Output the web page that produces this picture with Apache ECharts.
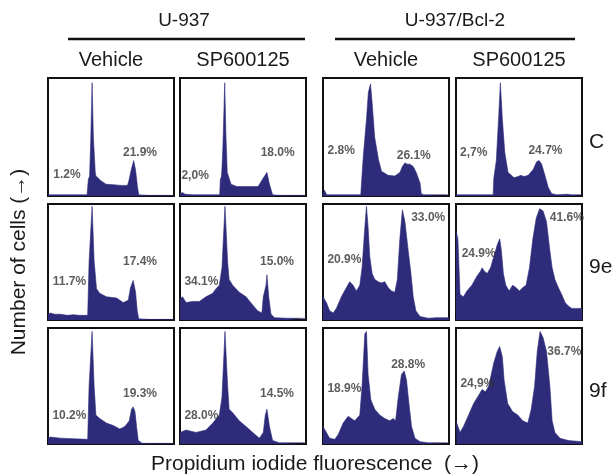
<!DOCTYPE html>
<html><head><meta charset="utf-8">
<script src="https://cdn.jsdelivr.net/npm/echarts@6/dist/echarts.min.js"></script>
<style>html,body{margin:0;padding:0;background:#fff}#c{width:616px;height:476px}</style>
</head><body><div id="c"></div>
<script>
// Column / row headings
const groupLabels = ['U-937', 'U-937/Bcl-2'];
const treatmentLabels = ['Vehicle', 'SP600125', 'Vehicle', 'SP600125'];
const rowLabels = ['C', '9e', '9f'];
const xTitle = 'Propidium iodide fluorescence  (\u2192)';
const yTitle = 'Number of cells (\u2192)';

// Histograms: [fluorescence %, relative cell count %]
const u937VehC = [[0,1],[10,1],[20,1],[31,1],[32,14],[33,17],[34,50],[35,96],[36,50],[37.5,20],[38,17],[42,13],[46,10],[52,9.5],[58,9],[63,9],[64,12],[66,22],[68,30],[69.5,22],[71,8],[72,1],[80,0.5],[100,0.5]];
const u937SpC = [[0,2],[2,3],[4,1.5],[10,1],[20,1],[31.5,1],[32,14],[33,17],[34,40],[35.5,96],[36.5,50],[37.5,20],[40.5,10],[45,8],[55,8],[62,8],[63,9],[66,15],[69,20],[71,10],[73.5,1],[80,0.5],[100,0.5]];
const bclVehC = [[0,1],[1,5],[2,5],[3,1],[10,1],[20,1],[30,1],[30.5,10],[32,34],[34.5,65],[36,88],[37.7,95],[39,79],[41,50],[44,31],[46.4,21],[51.7,17.5],[57,17],[61,20],[63,25],[65,28],[67,27],[69,27],[71.6,25],[74,20],[77,11],[78,2],[80,1],[100,1]];
const bclSpC = [[0,1],[1,2],[3,1],[15,1],[29.5,1],[30,15],[32,30],[34,70],[35.2,96],[36.8,65],[38.7,37],[41.3,20],[44,17.5],[46,15.5],[49.3,16.5],[51.5,17.5],[54,16.5],[57.3,17.5],[61.3,22.5],[64,29],[66,30],[68,27],[70.7,17],[73.3,7],[76,2],[80,1],[88,1.5],[92,1],[100,1]];

const u937Veh9e = [[0,5],[2,6],[5,5],[10,5],[15,4],[20,4.5],[25,4],[31.5,4],[32.6,50],[35,98],[36.6,51],[38.5,27],[41,23],[46.4,20],[54.4,19],[59.7,15],[63.7,17],[65.5,28],[67.6,34],[69.5,24],[70.8,8],[72,1],[80,0.5],[100,0.5]];
const u937Sp9e = [[0,18],[2,20],[4.8,15],[10,16],[15.3,16],[20.6,20],[26,23],[28.6,27],[31.2,30],[33.3,45],[35.7,98],[37.8,50],[39,35],[41.8,30],[47,24],[52.4,20],[57.7,13],[61.6,8],[65,6],[66.1,20],[68.3,30],[69,39],[70.4,20],[72.2,5],[75,2],[85,1.5],[100,1.5]];
const bclVeh9e = [[0,20],[0.8,20],[2.7,15],[5.3,8],[8,6],[10.6,10],[14.6,20],[18.6,28],[21.2,33],[23.9,30],[26.5,25],[29.2,30],[31,45],[33.2,80],[34.5,98],[35.8,80],[37.1,55],[39,40],[41.1,35],[43.8,33],[46.4,32],[49,33],[51.7,28],[54.4,25],[57,24],[59,35],[61,70],[63,95],[65,85],[67.6,60],[69.8,40],[71.6,20],[73.7,8],[77,3],[83.5,1.5],[90,2],[100,2]];
const bclSp9e = [[0,77],[1.5,70],[3.2,22],[5.9,20],[8.6,25],[12.6,30],[16.7,38],[19.4,42],[20.7,45],[22.6,42],[24.7,40],[27.4,45],[30.1,55],[32.8,65],[34.7,70],[36,60],[37.6,40],[39.5,30],[42.2,25],[44.9,30],[47.6,28],[50.3,25],[53,28],[55.6,30],[58.3,45],[61,70],[63.7,88],[66.4,96],[69.1,94],[71.8,85],[74.5,60],[76.3,45],[78.5,35],[81.2,28],[83.9,22],[86.6,15],[89.2,12],[91.9,10],[94.6,10],[100,10]];

const u937Veh9f = [[0,5],[2,6],[10,5],[20,4.5],[31.5,4],[32.6,50],[35,97],[36.6,50],[38,25],[41,22],[46.4,18],[51.7,16],[57,13],[61,15],[64.5,20],[66.3,30],[67.6,32],[69,28],[70.3,15],[71.6,3],[75,0.5],[100,0.5]];
const u937Sp9f = [[0,10],[4.8,12],[12.7,10],[20.6,12],[26,18],[31.2,25],[33.3,40],[35.7,97],[37.8,50],[39,30],[41.8,27],[47,20],[52.4,15],[57.7,10],[63,5],[66.1,10],[67.7,25],[69,30],[71,15],[73.5,3],[78.8,1],[100,1]];
const bclVeh9f = [[0,15],[0.8,15],[2.7,10],[5.3,5],[9.3,4],[12,8],[16,18],[20,24],[22.5,22],[25.2,20],[29.2,25],[31,50],[33.2,95],[34.5,97],[35.8,60],[38,38],[41.1,30],[45,25],[49,22],[53,20],[55.7,22],[57.6,20],[59.7,40],[62.3,60],[64.5,63],[66.3,55],[68.2,35],[70.3,15],[73,5],[77,2],[83.5,1],[100,1]];
const bclSp9f = [[0,20],[0.5,20],[3.2,10],[5.9,15],[10,25],[14,35],[18,42],[20.7,47],[23.4,45],[26,50],[30,70],[32.8,80],[34.7,84],[36.8,75],[38.2,55],[41,35],[44.9,28],[49,25],[53,20],[57,18],[59.7,30],[62.4,50],[64.5,80],[66.7,97],[69,92],[71.8,80],[74.5,50],[76.3,20],[78.5,10],[82.5,5],[89.2,3],[100,2]];

// Percent annotations: [x, y, text]
const u937VehCLab = [[15,18,'1.2%'],[73,37,'21.9%']];
const u937SpCLab = [[12,17,'2,0%'],[77.5,37,'18.0%']];
const bclVehCLab = [[14.5,38,'2.8%'],[72,34,'26.1%']];
const bclSpCLab = [[14,37,'2,7%'],[71,38,'24.7%']];
const u937Veh9eLab = [[17,33,'11.7%'],[73,50,'17.4%']];
const u937Sp9eLab = [[17,33,'34.1%'],[77,50,'15.0%']];
const bclVeh9eLab = [[17,52,'20.9%'],[83.5,88,'33.0%']];
const bclSp9eLab = [[18,57,'24.9%'],[88,88,'41.6%']];
const u937Veh9fLab = [[17,24,'10.2%'],[73,43,'19.3%']];
const u937Sp9fLab = [[17,24,'28.0%'],[77,43,'14.5%']];
const bclVeh9fLab = [[17,48,'18.9%'],[67.6,68,'28.8%']];
const bclSp9fLab = [[17,52,'24,9%'],[86,80,'36.7%']];

const panels = [
  [u937VehC, u937SpC, bclVehC, bclSpC],
  [u937Veh9e, u937Sp9e, bclVeh9e, bclSp9e],
  [u937Veh9f, u937Sp9f, bclVeh9f, bclSp9f]
];
const panelLabels = [
  [u937VehCLab, u937SpCLab, bclVehCLab, bclSpCLab],
  [u937Veh9eLab, u937Sp9eLab, bclVeh9eLab, bclSp9eLab],
  [u937Veh9fLab, u937Sp9fLab, bclVeh9fLab, bclSp9fLab]
];

// Layout
const colLeft = [48, 180, 323, 456];
const colW = 126;
const rowTop = [78, 204, 328];
const rowH = [118, 116, 116];
const FILL = '#2d2b7a';
const FONT = '"Liberation Sans", Arial, sans-serif';

const grid = [], xAxis = [], yAxis = [], series = [];
let k = 0;
for (let r = 0; r < 3; r++) {
  for (let c = 0; c < 4; c++) {
    grid.push({left: colLeft[c], top: rowTop[r], width: colW, height: rowH[r], show: true,
      borderColor: '#111', borderWidth: 2, backgroundColor: '#fff'});
    xAxis.push({type: 'value', gridIndex: k, min: 0, max: 100, show: false});
    yAxis.push({type: 'value', gridIndex: k, min: 0, max: 100, show: false});
    series.push({type: 'line', xAxisIndex: k, yAxisIndex: k, data: panels[r][c], symbol: 'none',
      lineStyle: {color: FILL, width: 0.6}, areaStyle: {color: FILL, opacity: 1}, silent: true, animation: false});
    series.push({type: 'scatter', xAxisIndex: k, yAxisIndex: k, symbolSize: 1, itemStyle: {color: 'rgba(0,0,0,0)'},
      data: panelLabels[r][c].map(d => ({value: [d[0], d[1]], name: d[2]})),
      label: {show: true, position: 'inside', formatter: '{b}', color: '#333', fontSize: 12, fontWeight: 'bold', fontFamily: FONT},
      labelLayout: {hideOverlap: false}, clip: false, silent: true, animation: false, z: 5});
    k++;
  }
}

const graphic = [];
const groupCenters = [184, 455];
const groupLines = [[68, 305], [335, 575]];
groupLabels.forEach((t, i) => {
  graphic.push({type: 'text', x: groupCenters[i], y: 21, style: {text: t, font: '19px ' + FONT, fill: '#1a1a1a', textAlign: 'center', textVerticalAlign: 'middle'}});
  graphic.push({type: 'line', shape: {x1: groupLines[i][0], y1: 39, x2: groupLines[i][1], y2: 39}, style: {stroke: '#111', lineWidth: 2.5}});
});
treatmentLabels.forEach((t, i) => {
  graphic.push({type: 'text', x: colLeft[i] + colW / 2, y: 60, style: {text: t, font: '20px ' + FONT, fill: '#1a1a1a', textAlign: 'center', textVerticalAlign: 'middle'}});
});
rowLabels.forEach((t, i) => {
  graphic.push({type: 'text', x: 589, y: rowTop[i] + rowH[i] / 2 + 5, style: {text: t, font: '21px ' + FONT, fill: '#1a1a1a', textAlign: 'left', textVerticalAlign: 'middle'}});
});
graphic.push({type: 'text', x: 315, y: 464, style: {text: xTitle, font: '21px ' + FONT, fill: '#1a1a1a', textAlign: 'center', textVerticalAlign: 'middle'}});
graphic.push({type: 'text', x: 19, y: 262, rotation: Math.PI / 2, style: {text: yTitle, font: '21px ' + FONT, fill: '#1a1a1a', textAlign: 'center', textVerticalAlign: 'middle'}});

const chart = echarts.init(document.getElementById('c'), null, {renderer: 'canvas'});
chart.setOption({backgroundColor: '#fff', animation: false, grid, xAxis, yAxis, series, graphic});
</script>
</body></html>
